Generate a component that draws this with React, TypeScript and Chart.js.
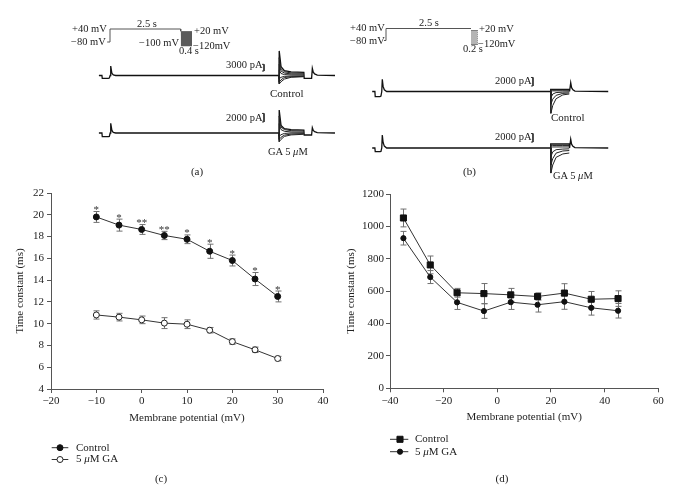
import React, { useEffect, useRef } from 'react';
import { Chart, registerables } from 'chart.js';
Chart.register(...registerables);

const FONT = "'Liberation Serif', 'DejaVu Serif', serif";

// ---------------- Panel (c) data ----------------
const cVoltage = [-10, -5, 0, 5, 10, 15, 20, 25, 30];
const cControl = [19.8, 19.05, 18.65, 18.1, 17.75, 16.65, 15.8, 14.1, 12.5];
const cControlErr = [0.5, 0.55, 0.45, 0.38, 0.4, 0.65, 0.5, 0.6, 0.5];
const cStars = ['*', '*', '**', '**', '*', '*', '*', '*', '*'];
const cGA = [10.8, 10.6, 10.35, 10.05, 9.95, 9.4, 8.35, 7.6, 6.8];
const cGAErr = [0.38, 0.35, 0.35, 0.5, 0.4, 0.25, 0.25, 0.25, 0.2];
const cXTicks = [-20, -10, 0, 10, 20, 30, 40];
const cYTicks = [4, 6, 8, 10, 12, 14, 16, 18, 20, 22];

// ---------------- Panel (d) data ----------------
const dVoltage = [-35, -25, -15, -5, 5, 15, 25, 35, 45];
const dControl = [1052, 762, 590, 585, 577, 567, 588, 550, 554];
const dControlErr = [55, 55, 27, 62, 40, 22, 58, 48, 48];
const dGA = [927, 687, 531, 477, 532, 516, 535, 497, 479];
const dGAErr = [42, 40, 44, 45, 45, 45, 47, 45, 45];
const dXTicks = [-40, -20, 0, 20, 40, 60];
const dYTicks = [0, 200, 400, 600, 800, 1000, 1200];

// ---------------- Voltage protocols ----------------
const stepLevels = [20, 0, -20, -40, -60, -80, -100, -120]; // mV
const protoA_t = [-0.1, 0, 0, 2.5, 2.5]; // s
const protoA_v = [-80, -80, 40, 40, 20]; // mV
const stepA_t = [2.5, 2.9];
const protoB_t = [-0.06, 0, 0, 2.5];
const protoB_v = [-80, -80, 40, 40];
const stepB_t = [2.5, 2.7];

// ---------------- Current traces (a) ----------------
const traceA_t = [-0.18, -0.135, -0.13, -0.04, -0.025, -0.012, -0.004, 0.01, 0.02, 0.035, 0.07, 2.5, 2.503, 2.53, 2.58, 2.68, 2.87, 2.875, 2.985, 2.996, 3.01, 3.03, 3.07, 3.333];
const ctrlA_i = [0, 0, -1250, -1250, -1150, 0, 4250, 1500, 700, 300, 0, 0, 11000, 4000, 2200, 1600, 1400, -1250, -1250, 3200, 1500, 700, 200, 0];
const gaA_i = [0, 0, -870, -870, -800, 0, 2280, 900, 400, 150, 0, 0, 5400, 1800, 1000, 800, 700, -470, -470, 1250, 600, 300, 100, 0];
const tailA_t = [2.5, 2.503, 2.53, 2.58, 2.68, 2.87];
const ctrlA_sweeps = [
  [0, 8000, 3000, 1700, 1150, 1000],
  [0, 5000, 2000, 1100, 700, 600],
  [0, 2500, 900, 400, 250, 200],
  [0, -1500, -800, -400, -250, -200],
  [0, -3000, -1900, -900, -550, -400],
  [0, -3800, -2800, -1600, -800, -540],
];
const gaA_sweeps = [
  [0, 4000, 1400, 800, 550, 450],
  [0, 2200, 800, 400, 250, 200],
  [0, -800, -400, -100, 0, 0],
  [0, -1500, -1000, -500, -250, -150],
  [0, -2050, -1500, -800, -450, -300],
];

// ---------------- Current traces (b) ----------------
const traceB_t = [-0.15, -0.11, -0.105, -0.035, -0.02, -0.008, 0, 0.012, 0.03, 0.065, 2.5, 2.5, 2.776, 2.78, 2.797, 2.81, 2.83, 2.86, 3.354];
const ctrlB_i = [0, 0, -1220, -1220, -1100, 0, 2870, 1200, 400, 0, 0, 520, 520, 0, 2070, 900, 400, 100, 0];
const gaB_i = [0, 0, -870, -870, -800, 0, 3060, 1300, 450, 0, 0, 940, 940, 0, 2050, 900, 400, 100, 0];
const tailB_t = [2.5, 2.503, 2.53, 2.58, 2.68, 2.776];
const ctrlB_sweeps = [
  [0, 350, 350, 350, 350, 350],
  [0, 150, 150, 150, 150, 150],
  [0, -1500, -600, -250, -150, -100],
  [0, -3000, -1800, -900, -450, -350],
  [0, -5130, -3300, -1700, -800, -590],
];
const gaB_sweeps = [
  [0, 600, 600, 600, 600, 600],
  [0, 250, 250, 250, 250, 250],
  [0, -2000, -900, -400, -250, -200],
  [0, -4000, -2500, -1200, -700, -600],
  [0, -5900, -4000, -2200, -1400, -1180],
];

// scale bars (pA)
const barA_ctrl = [2000, 5000];
const barA_ga = [2600, 4600];
const barB_ctrl = [1300, 3300];
const barB_ga = [1400, 3400];

// ---------------- helpers ----------------
const pts = (xs: number[], ys: number[]) => xs.map((x, i) => ({ x, y: ys[i] }));

function span(a: number[], size: number, vertical: boolean) {
  const [v1, p1, v2, p2] = a;
  const s = (p2 - p1) / (v2 - v1);
  const at = (px: number) => v1 + (px - p1) / s;
  return vertical ? { min: at(size), max: at(0) } : { min: at(0), max: at(size) };
}

const minusify = (v: any) => String(v).replace('-', '\u2212');

function drawRich(ctx: CanvasRenderingContext2D, text: string, x: number, y: number, size: number) {
  const parts = text.split('μ');
  let cx = x;
  parts.forEach((p, i) => {
    ctx.font = `${size}px ${FONT}`;
    ctx.fillText(p, cx, y);
    cx += ctx.measureText(p).width;
    if (i < parts.length - 1) {
      ctx.font = `italic ${size}px ${FONT}`;
      ctx.fillText('μ', cx, y);
      cx += ctx.measureText('μ').width;
    }
  });
}

const figPlugin = {
  id: 'fig',
  beforeDatasetsDraw(chart: any) {
    const { ctx, scales } = chart;
    const x = scales.x, y = scales.y;
    chart.data.datasets.forEach((ds: any) => {
      if (!ds.errors) return;
      ctx.save();
      ctx.strokeStyle = '#707070';
      ctx.lineWidth = 1;
      ds.data.forEach((p: any, i: number) => {
        const px = Math.round(x.getPixelForValue(p.x)) + 0.5;
        const a = y.getPixelForValue(p.y + ds.errors[i]);
        const b = y.getPixelForValue(p.y - ds.errors[i]);
        ctx.beginPath();
        ctx.moveTo(px, a); ctx.lineTo(px, b);
        ctx.moveTo(px - 3, a); ctx.lineTo(px + 3, a);
        ctx.moveTo(px - 3, b); ctx.lineTo(px + 3, b);
        ctx.stroke();
      });
      ctx.restore();
    });
  },
  afterDatasetsDraw(chart: any) {
    const { ctx, scales } = chart;
    const x = scales.x, y = scales.y;
    chart.data.datasets.forEach((ds: any) => {
      if (!ds.stars) return;
      ctx.save();
      ctx.fillStyle = '#333';
      ctx.font = `11px ${FONT}`;
      ctx.textAlign = 'center';
      ctx.textBaseline = 'alphabetic';
      ds.data.forEach((p: any, i: number) => {
        const px = x.getPixelForValue(p.x);
        const top = y.getPixelForValue(p.y + ds.errors[i]);
        ctx.fillText(ds.stars[i], px, top + 1.5);
      });
      ctx.restore();
    });
  },
  afterDraw(chart: any, _args: any, opts: any) {
    if (!opts || !opts.rows) return;
    const { ctx } = chart;
    ctx.save();
    chart.data.datasets.forEach((ds: any, i: number) => {
      const yy = opts.rows[i];
      ctx.strokeStyle = '#333';
      ctx.lineWidth = 1;
      ctx.beginPath();
      ctx.moveTo(opts.x0, yy); ctx.lineTo(opts.x1, yy);
      ctx.stroke();
      const r = ds.pointRadius;
      ctx.fillStyle = ds.pointBackgroundColor;
      ctx.strokeStyle = ds.pointBorderColor;
      ctx.beginPath();
      if (ds.pointStyle === 'rect') {
        const h = r * Math.SQRT1_2;
        ctx.rect(opts.mx - h, yy - h, 2 * h, 2 * h);
      } else {
        ctx.arc(opts.mx, yy, r, 0, Math.PI * 2);
      }
      ctx.fill();
      ctx.stroke();
      ctx.fillStyle = '#222';
      ctx.textBaseline = 'middle';
      ctx.textAlign = 'left';
      drawRich(ctx, ds.label, opts.tx, yy, 11);
    });
    ctx.restore();
  },
};

function plotConfig(p: any) {
  const tickFont = { family: FONT, size: 11 };
  const mkDs = (label: string, xs: number[], ys: number[], errs: number[], style: any) => ({
    label,
    data: pts(xs, ys),
    errors: errs,
    borderColor: '#333',
    borderWidth: 1,
    tension: 0,
    fill: false,
    pointBorderWidth: 1,
    ...style,
  });
  return {
    type: 'line',
    data: {
      datasets: [
        mkDs('Control', p.x, p.ctrl, p.ctrlErr, p.ctrlStyle),
        mkDs('5 μM GA', p.x, p.ga, p.gaErr, p.gaStyle),
      ],
    },
    options: {
      responsive: false,
      animation: false,
      devicePixelRatio: 1,
      layout: { padding: p.padding },
      plugins: {
        legend: { display: false },
        tooltip: { enabled: false },
        fig: p.legend,
      },
      scales: {
        x: {
          type: 'linear',
          min: p.xTicks[0],
          max: p.xTicks[p.xTicks.length - 1],
          afterBuildTicks: (s: any) => { s.ticks = p.xTicks.map((v: number) => ({ value: v })); },
          ticks: { font: tickFont, color: '#222', padding: 2, callback: minusify, maxRotation: 0, autoSkip: false },
          grid: { display: true, drawOnChartArea: false, drawTicks: true, tickLength: 4, color: '#555' },
          border: { display: true, color: '#555', width: 1 },
          title: { display: true, text: 'Membrane potential (mV)', font: tickFont, color: '#222', padding: { top: 0, bottom: p.xTitlePad } },
          afterFit: (s: any) => { s.height = p.xH; },
        },
        y: {
          type: 'linear',
          min: p.yTicks[0],
          max: p.yTicks[p.yTicks.length - 1],
          afterBuildTicks: (s: any) => { s.ticks = p.yTicks.map((v: number) => ({ value: v })); },
          ticks: { font: tickFont, color: '#222', padding: p.yTickPad, autoSkip: false, callback: minusify },
          grid: { display: true, drawOnChartArea: false, drawTicks: true, tickLength: 4, color: '#555' },
          border: { display: true, color: '#555', width: 1 },
          title: { display: true, text: 'Time constant (ms)', font: tickFont, color: '#222', padding: { top: p.yTitlePad, bottom: 0 } },
          afterFit: (s: any) => { s.width = p.yW; },
        },
      },
    },
    plugins: [figPlugin],
  };
}

function traceConfig(spec: any, d: any) {
  const ds: any[] = [];
  const line = (data: any[], xAxisID: string, yAxisID: string, color: string, w: number) => ({
    data, xAxisID, yAxisID, borderColor: color, borderWidth: w, pointRadius: 0, fill: false, tension: 0,
  });
  const top = Math.max(...stepLevels), bot = Math.min(...stepLevels);
  ds.push({ ...line(pts(d.stepT, [top, top]), 'xP', 'yP', spec.box.fill, 0), fill: { value: bot }, backgroundColor: spec.box.fill });
  if (spec.box.band) {
    ds.push({ ...line(pts(d.stepT, [top, top]), 'xP', 'yP', spec.box.band, 0), fill: { value: spec.box.bandTo }, backgroundColor: spec.box.band });
  }
  if (spec.box.lines) {
    stepLevels.forEach((l) => ds.push(line(pts(d.stepT, [l, l]), 'xP', 'yP', spec.box.lines, 1)));
  }
  ds.push(line(pts(d.protoT, d.protoV), 'xP', 'yP', '#555', 1));
  const cap = spec.bar.cap;
  const bt = spec.bar.t;
  [['yC', d.ctrl, d.ctrlSweeps, d.barC], ['yG', d.ga, d.gaSweeps, d.barG]].forEach(([ax, main, sweeps, bar]: any) => {
    sweeps.forEach((sw: number[]) => ds.push(line(pts(d.tailT, sw), 'xT', ax, '#222', 1)));
    ds.push(line(pts(d.traceT, main), 'xT', ax, '#111', 1.3));
    ds.push(line(pts([bt - cap, bt, bt, bt - cap], [bar[1], bar[1], bar[0], bar[0]]), 'xT', ax, '#333', 1));
  });
  const W = spec.width, H = spec.height;
  const lin = (axis: string, r: any) => ({ type: 'linear', axis, display: false, ...r });
  return {
    type: 'line',
    data: { datasets: ds },
    options: {
      responsive: false,
      animation: false,
      devicePixelRatio: 1,
      layout: { padding: 0 },
      plugins: { legend: { display: false }, tooltip: { enabled: false } },
      scales: {
        xT: lin('x', span(spec.xT, W, false)),
        xP: lin('x', span(spec.xP, W, false)),
        yP: lin('y', span(spec.yP, H, true)),
        yC: lin('y', span(spec.yC, H, true)),
        yG: lin('y', span(spec.yG, H, true)),
      },
    },
  };
}

// ---------------- layout specs ----------------
const panelA = {
  width: 345, height: 165,
  xT: [0, 111, 2.5, 279], xP: [0, 110, 2.5, 180.7],
  yP: [40, 29, -80, 42], yC: [0, 75.5, 3000, 68.8], yG: [0, 133, 2000, 124.5],
  bar: { t: 2.277, cap: 0.03 },
  box: { fill: '#5a5a5a', band: '#8e8e8e', bandTo: -20, lines: null },
};
const panelB = {
  width: 344, height: 180,
  xT: [0, 37.3, 2.5, 205.7], xP: [0, 41, 2.5, 126],
  yP: [40, 28.5, -80, 40.5], yC: [0, 91.5, 2000, 83], yG: [0, 148, 2000, 139.5],
  bar: { t: 2.237, cap: 0.03 },
  box: { fill: '#b4b4b4', band: null, bandTo: 0, lines: '#4a4a4a' },
};
const dataA = {
  protoT: protoA_t, protoV: protoA_v, stepT: stepA_t,
  traceT: traceA_t, ctrl: ctrlA_i, ga: gaA_i, tailT: tailA_t,
  ctrlSweeps: ctrlA_sweeps, gaSweeps: gaA_sweeps, barC: barA_ctrl, barG: barA_ga,
};
const dataB = {
  protoT: protoB_t, protoV: protoB_v, stepT: stepB_t,
  traceT: traceB_t, ctrl: ctrlB_i, ga: gaB_i, tailT: tailB_t,
  ctrlSweeps: ctrlB_sweeps, gaSweeps: gaB_sweeps, barC: barB_ctrl, barG: barB_ga,
};

const plotC = {
  x: cVoltage, ctrl: cControl, ctrlErr: cControlErr, ga: cGA, gaErr: cGAErr,
  xTicks: cXTicks, yTicks: cYTicks,
  ctrlStyle: { pointStyle: 'circle', pointRadius: 3, pointBackgroundColor: '#111', pointBorderColor: '#111', stars: cStars },
  gaStyle: { pointStyle: 'circle', pointRadius: 3, pointBackgroundColor: '#fff', pointBorderColor: '#222' },
  padding: { left: 0, top: 13, right: 22, bottom: 56 },
  xH: 41, yW: 51, xTitlePad: 5.7, yTitlePad: 13.4, yTickPad: 3,
  legend: { x0: 51.7, x1: 68.3, mx: 60, tx: 76, rows: [267.7, 279.5] },
};
const plotD = {
  x: dVoltage, ctrl: dControl, ctrlErr: dControlErr, ga: dGA, gaErr: dGAErr,
  xTicks: dXTicks, yTicks: dYTicks,
  ctrlStyle: { pointStyle: 'rect', pointRadius: 4.3, pointBackgroundColor: '#111', pointBorderColor: '#111' },
  gaStyle: { pointStyle: 'circle', pointRadius: 2.6, pointBackgroundColor: '#111', pointBorderColor: '#111' },
  padding: { left: 0, top: 14, right: 30.7, bottom: 55.7 },
  xH: 42, yW: 45, xTitlePad: 6.4, yTitlePad: 0, yTickPad: 2,
  legend: { x0: 45, x1: 63.3, mx: 55, tx: 70, rows: [259.3, 271.7] },
};

function ChartBox({ left, top, width, height, config }: any) {
  const ref = useRef<HTMLCanvasElement>(null);
  useEffect(() => {
    const chart = new Chart(ref.current as HTMLCanvasElement, config);
    return () => chart.destroy();
  }, []);
  return (
    <canvas ref={ref} width={width} height={height}
      style={{ position: 'absolute', left, top, width, height }} />
  );
}

const labels: any[] = [
  { x: 72, y: 29, t: '+40 mV' }, { x: 71, y: 42.5, t: '−80 mV' }, { x: 137, y: 24, t: '2.5 s' },
  { x: 139, y: 43.5, t: '−100 mV' }, { x: 194, y: 31, t: '+20 mV' }, { x: 193, y: 46, t: '−120mV' },
  { x: 179, y: 51.5, t: '0.4 s' }, { x: 226, y: 65, t: '3000 pA' }, { x: 270, y: 94, t: 'Control', s: 11 },
  { x: 226, y: 118, t: '2000 pA' }, { x: 268, y: 152, t: 'GA 5 μM' },
  { x: 350, y: 28.5, t: '+40 mV' }, { x: 350, y: 41, t: '−80 mV' }, { x: 419, y: 23, t: '2.5 s' },
  { x: 479, y: 29, t: '+20 mV' }, { x: 478, y: 44.5, t: '−120mV' }, { x: 463, y: 49.5, t: '0.2 s' },
  { x: 495, y: 81, t: '2000 pA' }, { x: 551, y: 118, t: 'Control', s: 11 },
  { x: 495, y: 137, t: '2000 pA' }, { x: 553, y: 176, t: 'GA 5 μM' },
  { x: 197, y: 172, t: '(a)', c: true, s: 11 }, { x: 469.5, y: 172, t: '(b)', c: true, s: 11 },
  { x: 161, y: 478.5, t: '(c)', c: true, s: 11 }, { x: 502, y: 478.5, t: '(d)', c: true, s: 11 },
];

function Label({ x, y, t, c, s }: any) {
  const size = s || 10.5;
  const parts = t.split('μ');
  return (
    <div style={{
      position: 'absolute', left: x, top: y - size * 0.6, fontFamily: FONT, fontSize: size,
      lineHeight: `${size * 1.2}px`, whiteSpace: 'nowrap', color: '#222',
      transform: c ? 'translateX(-50%)' : undefined,
    }}>
      {parts.map((p: string, i: number) => (
        <React.Fragment key={i}>{p}{i < parts.length - 1 ? <i>μ</i> : null}</React.Fragment>
      ))}
    </div>
  );
}

export default function App() {
  return (
    <div style={{ position: 'absolute', left: 0, top: 0, width: 689, height: 486, background: '#fff', overflow: 'hidden' }}>
      <ChartBox left={0} top={0} width={panelA.width} height={panelA.height} config={traceConfig(panelA, dataA)} />
      <ChartBox left={345} top={0} width={panelB.width} height={panelB.height} config={traceConfig(panelB, dataB)} />
      <ChartBox left={0} top={180} width={345} height={306} config={plotConfig(plotC)} />
      <ChartBox left={345} top={180} width={344} height={306} config={plotConfig(plotD)} />
      {labels.map((l, i) => <Label key={i} {...l} />)}
    </div>
  );
}
